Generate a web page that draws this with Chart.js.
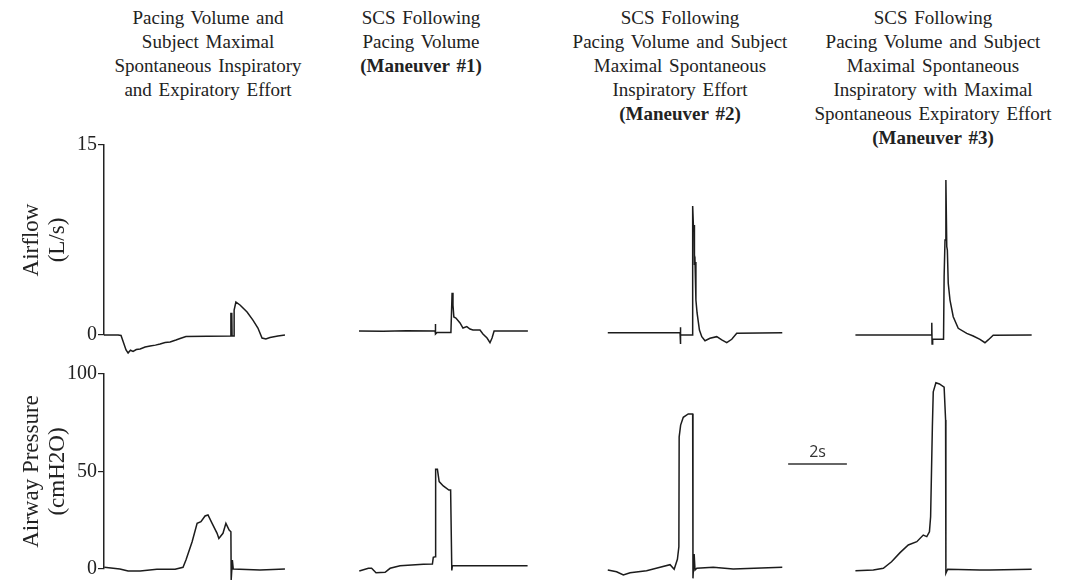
<!DOCTYPE html>
<html>
<head>
<meta charset="utf-8">
<script src="https://cdn.jsdelivr.net/npm/chart.js@4.4.0/dist/chart.umd.min.js"></script>
<style>
  body { margin: 0; background: #fff; }
  #wrap { position: relative; width: 1091px; height: 583px; overflow: hidden; }
  .colTitle {
    position: absolute; top: 6px; width: 280px; margin-left: -140px;
    text-align: center; color: #222;
    font-family: "Liberation Serif", "Times New Roman", serif;
    font-size: 19px; line-height: 24px; word-spacing: 2px;
  }
  canvas { position: absolute; left: 0; }
</style>
</head>
<body>
<div id="wrap">
  <div class="colTitle" style="left:208px">Pacing Volume and<br>Subject Maximal<br>Spontaneous Inspiratory<br>and Expiratory Effort</div>
  <div class="colTitle" style="left:421px">SCS Following<br>Pacing Volume<br><b>(Maneuver #1)</b></div>
  <div class="colTitle" style="left:680px">SCS Following<br>Pacing Volume and Subject<br>Maximal Spontaneous<br>Inspiratory Effort<br><b>(Maneuver #2)</b></div>
  <div class="colTitle" style="left:933px">SCS Following<br>Pacing Volume and Subject<br>Maximal Spontaneous<br>Inspiratory with Maximal<br>Spontaneous Expiratory Effort<br><b>(Maneuver #3)</b></div>
  <canvas id="flowChart" width="1091" height="232" style="top:125px"></canvas>
  <canvas id="presChart" width="1091" height="229" style="top:354px"></canvas>
</div>
<script>
// time axis in seconds, shared by both rows
const X_MAX = 32;

// Airflow (L/s) traces, [time s, value]
const flowPacing = [[0,0],[0.48,0],[0.58,-0.04],[0.75,-1.18],[0.82,-1.42],[0.9,-1.2],[0.99,-1.3],[1.1,-1.15],[1.23,-1.1],[1.4,-0.95],[1.57,-0.87],[1.75,-0.8],[1.91,-0.71],[2.08,-0.6],[2.25,-0.55],[2.45,-0.4],[2.59,-0.28],[2.79,-0.12],[3.5,-0.1],[4.32,-0.08],[4.32,1.7],[4.35,1.7],[4.36,-0.08],[4.43,-0.08],[4.43,1.97],[4.49,2.6],[4.63,2.37],[4.87,1.82],[5.07,1.18],[5.24,0.55],[5.38,-0.24],[5.51,-0.32],[5.65,-0.2],[5.92,-0.08],[6.16,0]];
const flowM1 = [[8.68,0.32],[9.5,0.3],[10.3,0.34],[11.27,0.32],[11.27,0.87],[11.30,0.08],[11.34,0.2],[11.81,0.2],[11.85,3.34],[11.88,2.37],[11.91,1.42],[11.98,1.34],[12.12,0.95],[12.22,0.55],[12.35,0.66],[12.46,0.47],[12.56,0.39],[12.80,0.39],[12.90,0.08],[13.04,-0.24],[13.14,-0.61],[13.21,-0.24],[13.28,0.32],[14.43,0.32]];
const flowM2 = [[17.15,0.18],[18.4,0.18],[19.61,0.18],[19.61,0.61],[19.63,-0.71],[19.64,0],[20.02,0],[20.04,10.18],[20.07,8.29],[20.09,8.68],[20.10,5.53],[20.12,5.76],[20.15,2.76],[20.19,1.74],[20.27,0.39],[20.35,-0.13],[20.46,-0.45],[20.63,-0.26],[20.86,-0.13],[21.03,-0.39],[21.20,-0.61],[21.37,-0.34],[21.54,0.13],[23.09,0.18]];
const flowM3 = [[25.58,0],[27.0,0],[28.18,0],[28.18,0.97],[28.19,-0.71],[28.21,-0.34],[28.58,-0.34],[28.60,4.6],[28.63,7.5],[28.66,12.24],[28.69,6.97],[28.71,6.71],[28.74,4.08],[28.80,2.76],[28.91,1.44],[29.08,0.53],[29.37,0.13],[29.59,-0.08],[29.82,-0.34],[29.99,-0.61],[30.10,-0.39],[30.27,-0.02],[31.58,0]];

// Airway pressure (cmH2O) traces, [time s, value]
const presPacing = [[0.01,0.87],[0.54,0],[0.82,-1.03],[1.23,-1.03],[1.80,-0.15],[2.42,-0.15],[2.69,0.87],[2.79,4.6],[3.00,14],[3.17,23.4],[3.30,24.3],[3.44,27.2],[3.54,27.7],[3.68,23.4],[3.85,18.3],[3.91,15.7],[4.05,18.3],[4.15,23.4],[4.26,20],[4.32,19.1],[4.33,-5.6],[4.37,4.6],[4.40,0],[5.31,-0.5],[5.75,-0.3],[6.16,0]];
const presM1 = [[8.69,-1.03],[9.00,0.36],[9.11,0.36],[9.26,-1.9],[9.57,-1.7],[9.74,0.36],[10.08,1.7],[10.87,2.4],[11.18,2.56],[11.21,6.0],[11.27,6.3],[11.29,51.1],[11.35,51.1],[11.41,44.8],[11.55,42.6],[11.74,40.5],[11.80,40.5],[11.84,-0.77],[11.86,1.7],[14.42,1.7]];
const presM2 = [[17.15,-0.5],[17.45,-1.4],[17.68,-3.1],[17.91,-1.9],[18.47,-0.9],[18.93,0.9],[19.27,2.2],[19.41,-0.15],[19.52,5.0],[19.57,11.4],[19.58,67.8],[19.63,73.8],[19.72,77.8],[19.89,79.5],[20.04,79.5],[20.05,-4.8],[20.09,7.7],[20.12,-0.5],[20.18,0.36],[20.74,0.87],[21.42,0],[23.09,0.87]];
const presM3 = [[25.58,-0.87],[26.19,-0.5],[26.53,0.36],[26.81,3.7],[27.10,8.4],[27.38,12.3],[27.67,14],[27.89,17.4],[28.01,16.6],[28.10,19.1],[28.14,26.8],[28.20,73],[28.23,90.9],[28.32,95.5],[28.44,94.9],[28.60,93.2],[28.65,76.4],[28.66,-2.2],[28.72,-0.15],[29.82,-0.5],[30.16,-0.5],[31.58,-0.15]];

// axes
const flowTicks = [0, 15];
const presTicks = [0, 50, 100];
const flowTitle = ['Airflow', '(L/s)'];
const presTitle = ['Airway Pressure', '(cmH2O)'];

// 2 s time scale bar (drawn in the pressure row)
const scaleBarT = [23.29, 25.29];
const scaleBarLevel = 53.8;
const scaleBarText = '2s';

const serif = '"Liberation Serif", "Times New Roman", serif';

function trace(points) {
    return {
        data: points.map(p => ({ x: p[0], y: p[1] })),
        borderColor: '#1c1c1c',
        borderWidth: 1.5,
        pointRadius: 0,
        tension: 0,
        clip: false
    };
}

function yAxis(ticks, title) {
    return {
        min: ticks[0],
        max: ticks[ticks.length - 1],
        afterFit: s => { s.width = 104; },
        afterBuildTicks: s => { s.ticks = ticks.map(v => ({ value: v })); },
        border: { display: true, color: '#222', width: 1.5 },
        grid: { drawOnChartArea: false, drawTicks: true, tickLength: 6, color: '#222', lineWidth: 1.2 },
        ticks: { color: '#222', padding: 1, font: { family: serif, size: 20 } },
        title: {
            display: true,
            text: title,
            color: '#222',
            font: { family: serif, size: 23, lineHeight: '26px' },
            padding: { top: 19, bottom: 0 }
        }
    };
}

function baseOptions(ticks, title, padding) {
    return {
        responsive: false,
        animation: false,
        layout: { padding: padding },
        plugins: { legend: { display: false }, tooltip: { enabled: false } },
        scales: {
            x: { type: 'linear', min: 0, max: X_MAX, display: false },
            y: yAxis(ticks, title)
        }
    };
}

// writes the "2s" label above the scale bar
const scaleBarLabel = {
    id: 'scaleBarLabel',
    afterDatasetsDraw(chart) {
        const ctx = chart.ctx;
        const x = chart.scales.x.getPixelForValue((scaleBarT[0] + scaleBarT[1]) / 2);
        const y = chart.scales.y.getPixelForValue(scaleBarLevel);
        ctx.save();
        ctx.font = '16px "Open Sans", sans-serif';
        ctx.fillStyle = '#333';
        ctx.textAlign = 'center';
        ctx.textBaseline = 'alphabetic';
        ctx.fillText(scaleBarText, x, y - 7);
        ctx.restore();
    }
};

new Chart(document.getElementById('flowChart'), {
    type: 'line',
    data: { datasets: [flowPacing, flowM1, flowM2, flowM3].map(trace) },
    options: baseOptions(flowTicks, flowTitle, { left: 0, right: 47, top: 20, bottom: 22 })
});

const scaleBar = {
    data: scaleBarT.map(t => ({ x: t, y: scaleBarLevel })),
    borderColor: '#333',
    borderWidth: 1.5,
    pointRadius: 0
};

new Chart(document.getElementById('presChart'), {
    type: 'line',
    data: { datasets: [presPacing, presM1, presM2, presM3].map(trace).concat([scaleBar]) },
    options: baseOptions(presTicks, presTitle, { left: 0, right: 47, top: 20, bottom: 14 }),
    plugins: [scaleBarLabel]
});
</script>
</body>
</html>
